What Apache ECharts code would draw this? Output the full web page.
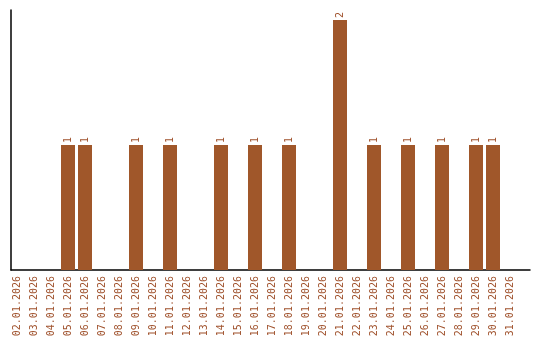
<!DOCTYPE html>
<html><head><meta charset="utf-8">
<script src="https://cdn.jsdelivr.net/npm/echarts@6/dist/echarts.min.js"></script>
<style>html,body{margin:0;padding:0;background:#fff}#c{width:540px;height:340px}</style>
</head><body><div id="c"></div>
<script>
const categories = ["02.01.2026","03.01.2026","04.01.2026","05.01.2026","06.01.2026","07.01.2026","08.01.2026","09.01.2026","10.01.2026","11.01.2026","12.01.2026","13.01.2026","14.01.2026","15.01.2026","16.01.2026","17.01.2026","18.01.2026","19.01.2026","20.01.2026","21.01.2026","22.01.2026","23.01.2026","24.01.2026","25.01.2026","26.01.2026","27.01.2026","28.01.2026","29.01.2026","30.01.2026","31.01.2026"];
const values = [0,0,0,1,1,0,0,1,0,1,0,0,1,0,1,0,1,0,0,2,0,1,0,1,0,1,0,1,1,0];
const chart = echarts.init(document.getElementById('c'));
chart.setOption({
  animation:false,
  grid:[{left:8.5,right:21.5,top:10,bottom:70},{left:11,right:10,top:10,bottom:70}],
  xAxis:[{type:'category',data:categories,gridIndex:0,
    axisLine:{show:false},axisTick:{show:false},
    axisLabel:{rotate:90,interval:0,color:'#a0522d',fontFamily:'DejaVu Sans Mono',fontSize:10,margin:6}},
    {type:'value',gridIndex:1,min:0,max:1,axisLine:{show:true,lineStyle:{color:'#000',width:1.5}},axisTick:{show:false},axisLabel:{show:false},splitLine:{show:false}}],
  yAxis:[{type:'value',gridIndex:0,min:0,max:2.08,axisLine:{show:false},axisTick:{show:false},axisLabel:{show:false},splitLine:{show:false}},
    {type:'value',gridIndex:1,min:0,max:1,axisLine:{show:true,lineStyle:{color:'#000',width:1.5}},axisTick:{show:false},axisLabel:{show:false},splitLine:{show:false}}],
  series:[{type:'bar',xAxisIndex:0,yAxisIndex:0,data:values.map(v=>v===0?null:v),barWidth:14,itemStyle:{color:'#a0572a'},
    label:{show:true,position:'top',rotate:90,align:'left',verticalAlign:'middle',distance:2,color:'#a0522d',fontFamily:'DejaVu Sans Mono',fontSize:10}}]
});
</script></body></html>
